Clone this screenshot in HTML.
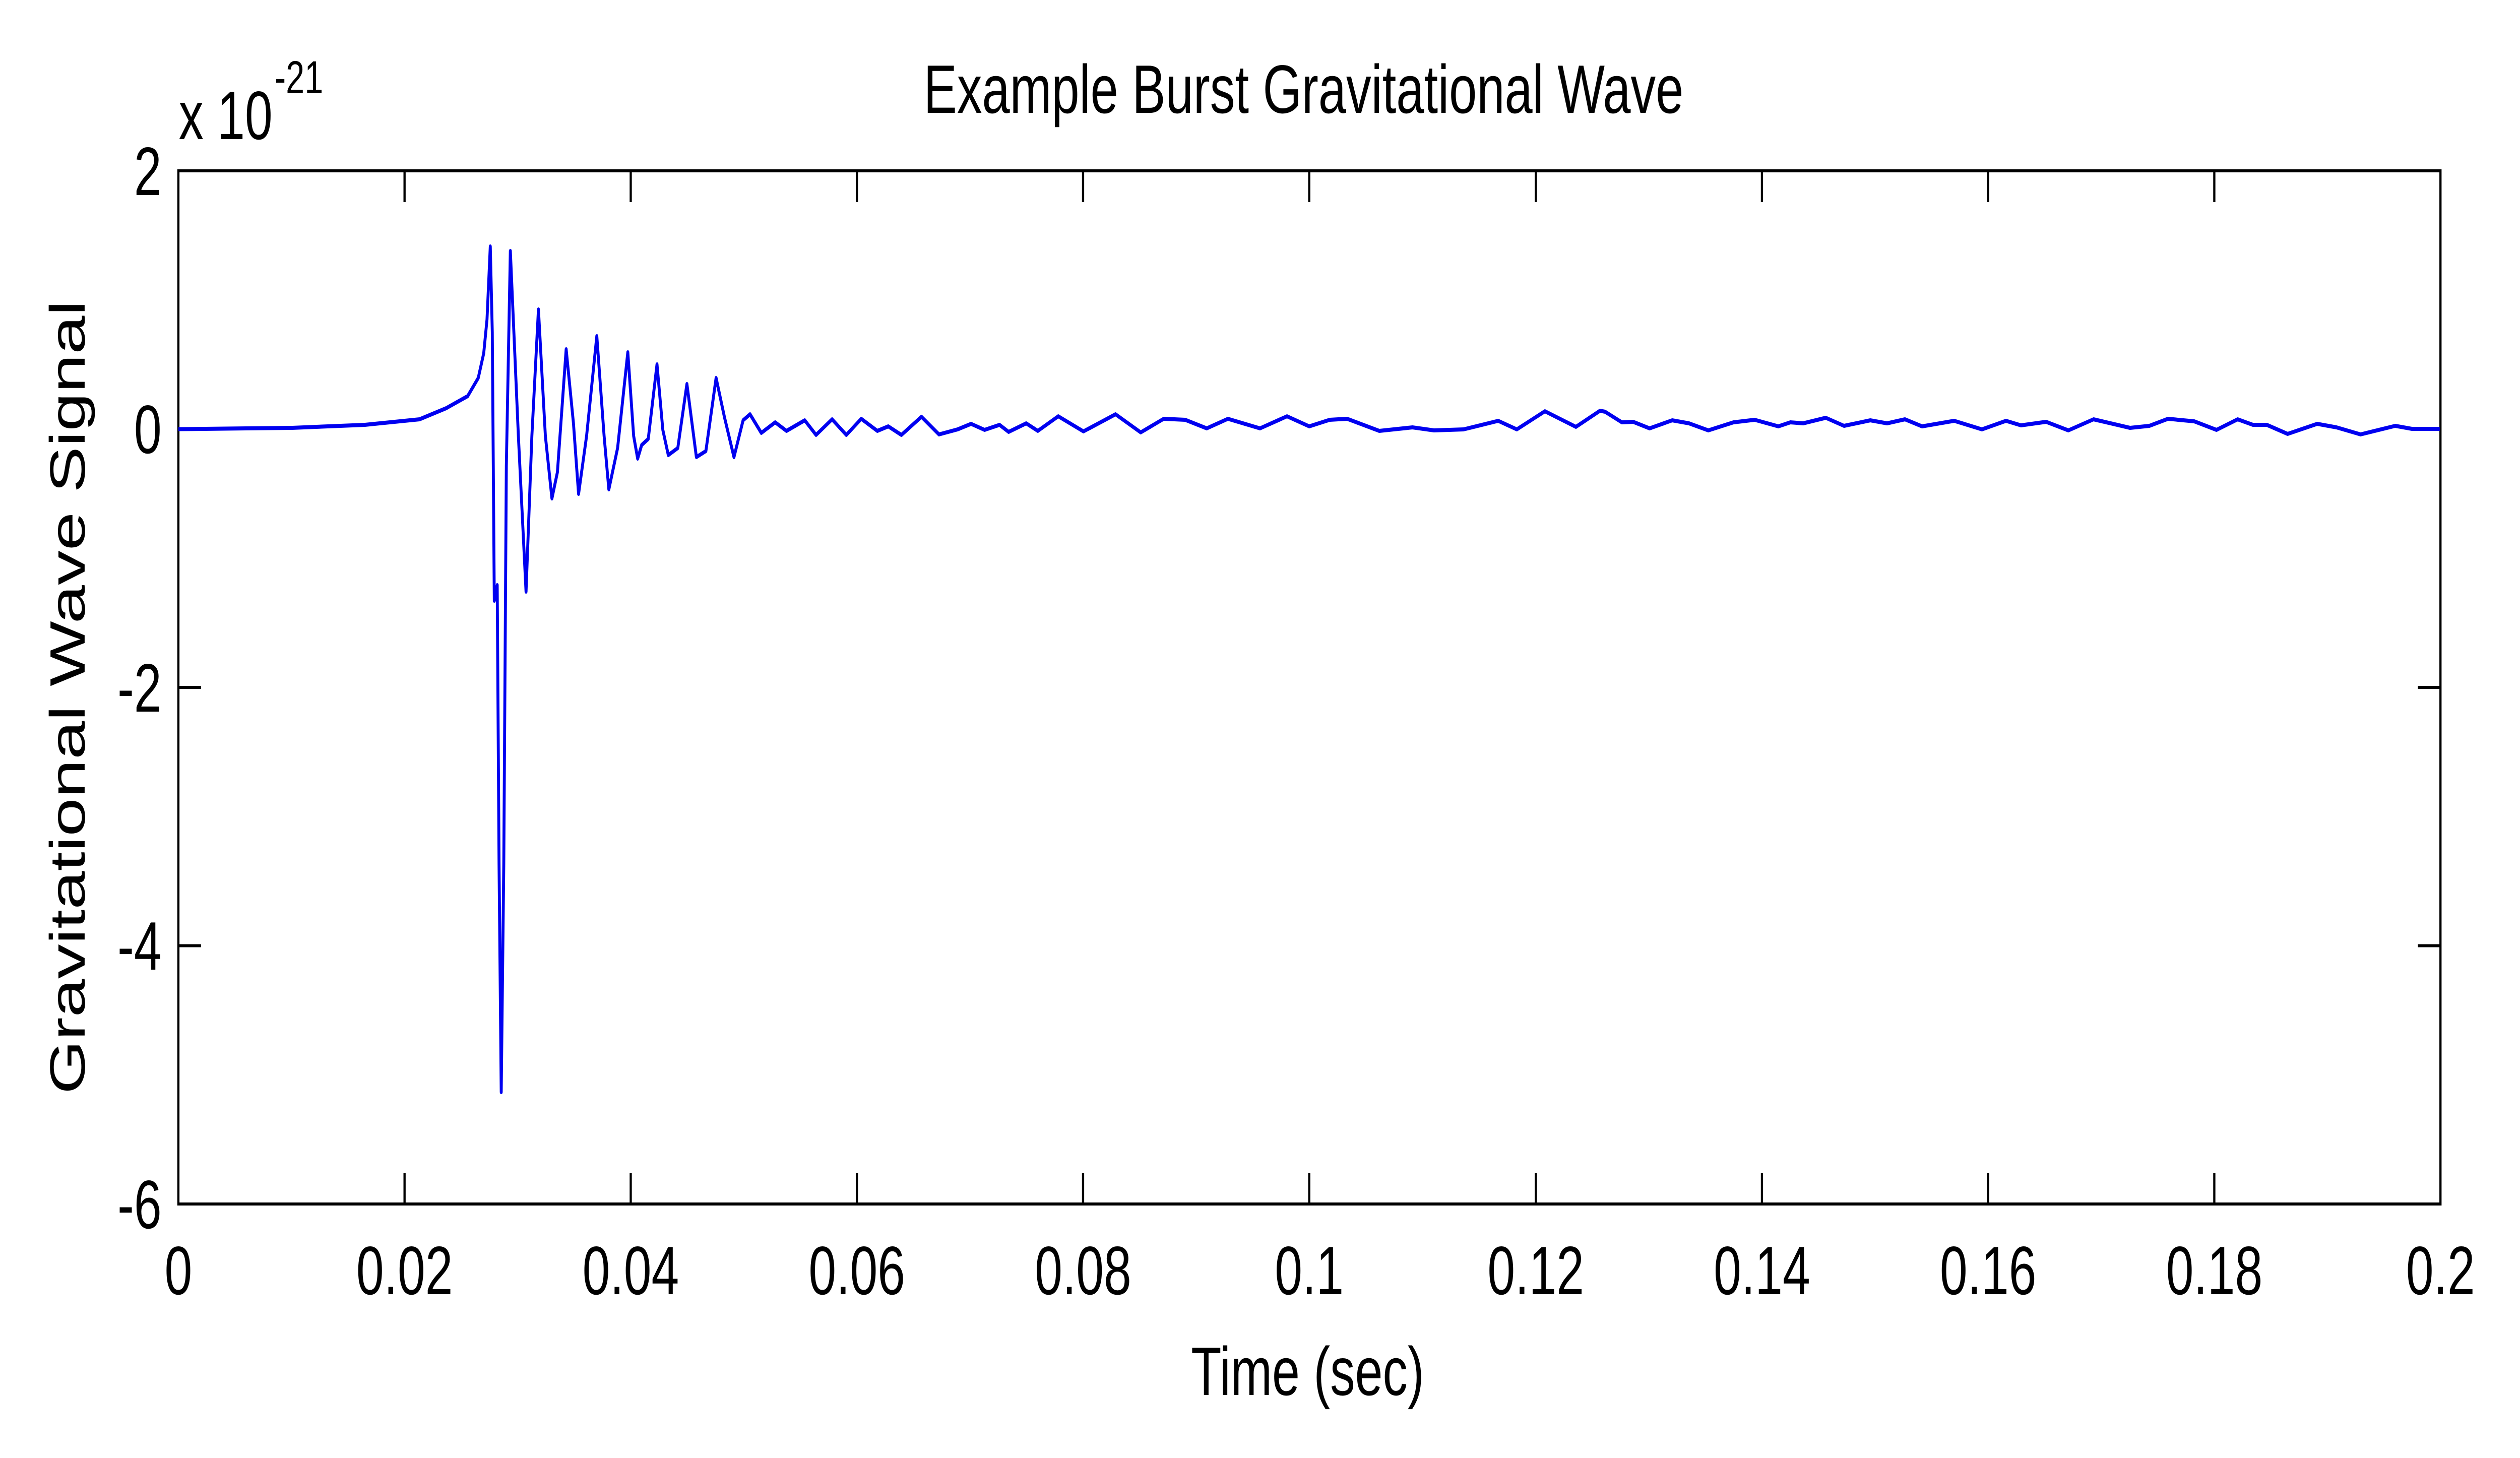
<!DOCTYPE html>
<html><head><meta charset="utf-8"><style>html,body{margin:0;padding:0;background:#fff;width:100%;height:100%;overflow:hidden}svg{display:block;position:absolute;left:0;top:0;width:100vw;height:100vh}</style></head>
<body>
<svg viewBox="0 0 6908 2893" preserveAspectRatio="none" xmlns="http://www.w3.org/2000/svg" font-family="Liberation Sans, Arial, sans-serif">
<rect width="6908" height="2893" fill="#fff"/>
<g stroke="#000" stroke-width="6" fill="none">
<rect x="489" y="339" width="6201" height="2050"/>
<path d="M1109 2389v-62M1729 2389v-62M2349 2389v-62M2969 2389v-62M3589 2389v-62M4210 2389v-62M4830 2389v-62M5450 2389v-62M6070 2389v-62
M1109 339v62M1729 339v62M2349 339v62M2969 339v62M3589 339v62M4210 339v62M4830 339v62M5450 339v62M6070 339v62
M489 851.5h62M489 1364h62M489 1876.5h62M6690 851.5h-62M6690 1364h-62M6690 1876.5h-62"/>
</g>
<polyline fill="none" stroke="#0000f0" stroke-width="8" stroke-linejoin="round" points="
489,851.5 800,849 1000,843 1150,832 1223,810 1282,786 1311,750 1326,701 1335,634 1344,489 1349.5,659 1355,1192 1360,1175 1363,1161 1368,1713 1374,2167 1381,1713 1388,925 1399,498 1421,865 1442,1174 1458,865 1476,614 1495,865 1513,989 1528,937 1552,693 1572,840 1586,980 1608,865 1636,667 1656,865 1669,971 1693,889 1721,699 1737,865 1748,910 1759,883 1777,871 1801,723 1817,853 1832,903 1858,889 1883,762 1909,907 1935,895 1963,750 1986,828 2012,907 2037,834 2056,822 2087,859 2125,838 2156,855 2206,834 2237,863 2281,832 2320,863 2361,831 2405,855 2435,846 2471,863 2526,827 2574,862 2625,852 2662,841 2699,853 2740,843 2765,857 2813,840 2845,855 2901,826 2970,856 3058,822 3127,858 3190,831 3249,833 3308,850 3366,831 3454,850 3528,826 3589,846 3645,833 3693,831 3781,855 3872,848 3931,854 4012,852 4107,835 4158,852 4235,816 4320,847 4386,815 4400,817 4446,838 4477,837 4522,850 4584,834 4630,840 4683,854 4752,838 4810,833 4875,846 4908,838 4943,840 5005,829 5055,845 5127,834 5173,840 5222,832 5269,846 5357,835 5433,852 5499,835 5540,844 5609,837 5670,854 5739,832 5839,849 5892,845 5943,831 6015,836 6076,853 6134,832 6176,843 6214,843 6271,861 6352,841 6405,848 6471,862 6566,845 6612,851 6688,851"/>
<g font-size="136" fill="#000">
<g text-anchor="end">
<text x="443" y="387">2</text>
<text x="443" y="899">0</text>
<text x="443" y="1412">-2</text>
<text x="443" y="1924">-4</text>
<text x="443" y="2437">-6</text>
</g>
<g text-anchor="middle">
<text x="489" y="2568">0</text>
<text x="1109" y="2568">0.02</text>
<text x="1729" y="2568">0.04</text>
<text x="2349" y="2568">0.06</text>
<text x="2969" y="2568">0.08</text>
<text x="3589" y="2568">0.1</text>
<text x="4210" y="2568">0.12</text>
<text x="4830" y="2568">0.14</text>
<text x="5450" y="2568">0.16</text>
<text x="6070" y="2568">0.18</text>
<text x="6690" y="2568">0.2</text>
</g>
<text x="2532" y="224" textLength="2083" lengthAdjust="spacingAndGlyphs">Example Burst Gravitational Wave</text>
<text x="3265" y="2768" textLength="639" lengthAdjust="spacingAndGlyphs">Time (sec)</text>
<text transform="translate(232,2171) rotate(-90)" x="0" y="0" textLength="1575" lengthAdjust="spacingAndGlyphs">Gravitational Wave Signal</text>
<text x="490" y="276">x 10</text>
<text x="753" y="185" font-size="92">-21</text>
</g>
</svg>
</body></html>
